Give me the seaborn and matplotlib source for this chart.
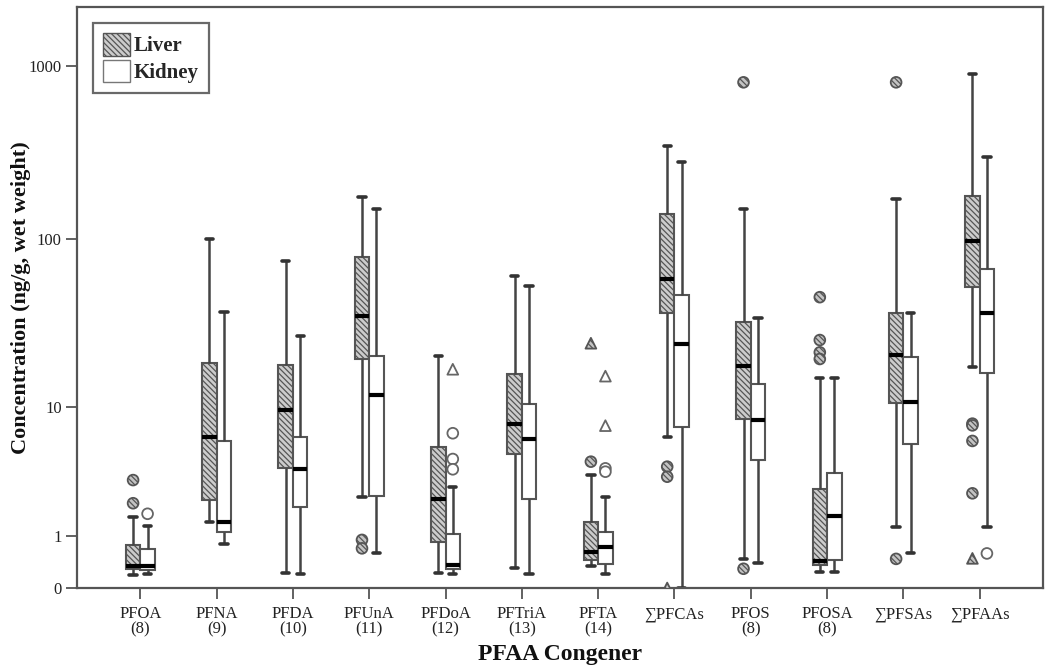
import numpy as np
import pandas as pd
import matplotlib
matplotlib.use('Agg')
import matplotlib.pyplot as plt
import seaborn as sns
from matplotlib.patches import Patch
import matplotlib.colors as mcolors

# ---------------- data ----------------
congeners = ['PFOA', 'PFNA', 'PFDA', 'PFUnA', 'PFDoA', 'PFTriA', 'PFTA',
             '\u2211PFCAs', 'PFOS', 'PFOSA', '\u2211PFSAs', '\u2211PFAAs']
chain_lengths = ['(8)', '(9)', '(10)', '(11)', '(12)', '(13)', '(14)', '',
                 '(8)', '(8)', '', '']
tissues = ['Liver', 'Kidney']

# five-number summaries (lower whisker, Q1, median, Q3, upper whisker), ng/g
liver_low = [0.19, 1.40, 0.22, 2.32, 0.22, 0.30, 0.33, 6.40, 0.47, 0.24, 1.25, 17.5]
liver_q1 = [0.28, 2.20, 3.87, 19.7, 0.85, 4.89, 0.45, 36.9, 8.32, 0.36, 10.5, 52.9]
liver_med = [0.34, 6.35, 9.54, 35.4, 2.23, 7.73, 0.60, 58.9, 17.95, 0.42, 20.8, 97.7]
liver_q3 = [0.77, 18.6, 18.05, 78.6, 5.49, 15.98, 1.40, 140.0, 32.8, 2.71, 36.9, 178.0]
liver_high = [1.56, 99.9, 74.4, 176.4, 20.5, 61.4, 3.46, 347.0, 150.4, 15.2, 171.8, 895.0]

kidney_low = [0.20, 0.80, 0.21, 0.58, 0.21, 0.21, 0.20, 0.0, 0.39, 0.24, 0.58, 1.23]
kidney_q1 = [0.27, 1.11, 1.91, 2.38, 0.28, 2.25, 0.37, 7.45, 4.44, 0.45, 5.70, 16.1]
kidney_med = [0.33, 1.39, 3.83, 11.8, 0.36, 6.18, 0.73, 24.4, 8.24, 1.60, 10.77, 37.2]
kidney_q3 = [0.67, 6.0, 6.35, 20.5, 1.04, 10.41, 1.11, 47.3, 13.82, 3.56, 20.35, 67.4]
kidney_high = [1.28, 37.7, 27.2, 150.4, 2.79, 53.2, 2.32, 278.6, 34.8, 15.2, 37.2, 300.0]

# outliers ('o' = outlier, '^' = extreme)
liver_out_cat = ['PFOA', 'PFOA', 'PFUnA', 'PFUnA', 'PFTA', 'PFTA',
                 '\u2211PFCAs', '\u2211PFCAs', '\u2211PFCAs', 'PFOS', 'PFOS',
                 'PFOSA', 'PFOSA', 'PFOSA', 'PFOSA', '\u2211PFSAs', '\u2211PFSAs',
                 '\u2211PFAAs', '\u2211PFAAs', '\u2211PFAAs', '\u2211PFAAs', '\u2211PFAAs']
liver_out_val = [2.07, 3.17, 0.89, 0.69, 4.32, 24.5,
                 3.98, 3.36, 0.0, 0.29, 804.0,
                 45.9, 25.6, 21.6, 19.7, 804.0, 0.47,
                 7.8, 7.6, 6.0, 2.5, 0.48]
liver_out_mark = ['o', 'o', 'o', 'o', 'o', '^',
                  'o', 'o', '^', 'o', 'o',
                  'o', 'o', 'o', 'o', 'o', 'o',
                  'o', 'o', 'o', 'o', '^']

kidney_out_cat = ['PFOA', 'PFDoA', 'PFDoA', 'PFDoA', 'PFDoA',
                  'PFTA', 'PFTA', 'PFTA', 'PFTA', '\u2211PFAAs']
kidney_out_val = [1.67, 6.75, 4.51, 3.81, 17.07, 3.87, 3.66, 7.57, 15.5, 0.58]
kidney_out_mark = ['o', 'o', 'o', 'o', '^', 'o', 'o', '^', '^', 'o']

y_ticks = [0, 1, 10, 100, 1000]
y_ticklabels = ['0', '1', '10', '100', '1000']

# ---------------- build table ----------------
rows = []
for tissue, arrs in (('Liver', (liver_low, liver_q1, liver_med, liver_q3, liver_high)),
                     ('Kidney', (kidney_low, kidney_q1, kidney_med, kidney_q3, kidney_high))):
    for i, c in enumerate(congeners):
        for a in arrs:
            rows.append({'congener': c, 'tissue': tissue, 'value': a[i]})
df = pd.DataFrame(rows)

# ---------------- style ----------------
sns.set_style('ticks')
plt.rcParams['font.family'] = ['Liberation Serif', 'DejaVu Serif']
plt.rcParams['hatch.color'] = '#555555'
plt.rcParams['hatch.linewidth'] = 0.9

fig = plt.figure(figsize=(10.5, 6.71), dpi=100)
ax = fig.add_axes([77 / 1050, (671 - 588) / 671, (1043 - 77) / 1050, (588 - 7) / 671])

fwd = lambda v: np.log10(np.clip(v, -0.999, None) + 1.0)
inv = lambda t: 10.0 ** t - 1.0
ax.set_yscale('function', functions=(fwd, inv))

LIVER_FC = '#cccccc'
BOX_W = 0.38
sns.boxplot(data=df, x='congener', y='value', hue='tissue', order=congeners,
            hue_order=tissues, palette={'Liver': LIVER_FC, 'Kidney': 'white'},
            saturation=1, whis=(0, 100), width=BOX_W, gap=0, dodge=True,
            linecolor='#555555', linewidth=1.5, showfliers=False,
            medianprops=dict(color='black', linewidth=3),
            whiskerprops=dict(color='#444444', linewidth=1.8),
            capprops=dict(color='#333333', linewidth=2.6),
            legend=False, ax=ax)

liver_rgba = mcolors.to_rgba(LIVER_FC)
for p in ax.patches:
    if np.allclose(p.get_facecolor(), liver_rgba, atol=0.02):
        p.set_hatch('\\\\\\\\\\\\')

# outliers
off = BOX_W / 4
lx = [congeners.index(c) - off for c in liver_out_cat]
kx = [congeners.index(c) + off for c in kidney_out_cat]
sns.scatterplot(x=lx, y=liver_out_val, style=liver_out_mark,
                markers={'o': 'o', '^': '^'}, s=60, color='#c4c4c4',
                edgecolor='#555555', linewidth=1.3, hatch='\\\\\\\\\\\\',
                legend=False, zorder=4, ax=ax)
sns.scatterplot(x=kx, y=kidney_out_val, style=kidney_out_mark,
                markers={'o': 'o', '^': '^'}, s=60, color='white',
                edgecolor='#666666', linewidth=1.3,
                legend=False, zorder=4, ax=ax)

# axes
ax.set_xlim(-0.83, 11.83)
ax.set_ylim(0, 2180)
ax.set_yticks(y_ticks)
ax.set_yticklabels(y_ticklabels)
ax.yaxis.set_minor_locator(matplotlib.ticker.NullLocator())
ax.set_xticks(range(len(congeners)))
ax.set_xticklabels([c + ('\n' + n if n else '') for c, n in zip(congeners, chain_lengths)])
for t in ax.get_xticklabels():
    t.set_linespacing(0.95)
ax.tick_params(axis='both', direction='out', length=8, width=1.3, color='#555555',
               labelsize=12, labelcolor='#222222')
ax.tick_params(axis='x', pad=5)
ax.tick_params(axis='y', pad=3)
for s in ax.spines.values():
    s.set_visible(True)
    s.set_color('#555555')
    s.set_linewidth(1.6)

ax.set_xlabel('PFAA Congener', fontsize=17, fontweight='bold', color='#111111')
ax.set_ylabel('Concentration (ng/g, wet weight)', fontsize=16, fontweight='bold', color='#111111')
ax.xaxis.set_label_coords(0.5, -0.097)
ax.yaxis.set_label_coords(-0.048, 0.5)

handles = [Patch(facecolor=LIVER_FC, edgecolor='#555555', hatch='\\\\\\\\\\\\', label='Liver'),
           Patch(facecolor='white', edgecolor='#777777', label='Kidney')]
leg = ax.legend(handles=handles, loc='upper left', bbox_to_anchor=(0.0165, 0.973),
                frameon=True, fancybox=False, edgecolor='#444444',
                prop={'family': ['Liberation Serif', 'DejaVu Serif'], 'weight': 'bold', 'size': 15},
                handlelength=1.3, handleheight=1.3, handletextpad=0.15,
                borderpad=0.5, labelspacing=0.15, borderaxespad=0)
leg.get_frame().set_linewidth(1.6)

fig.savefig('out.png', dpi=100)
